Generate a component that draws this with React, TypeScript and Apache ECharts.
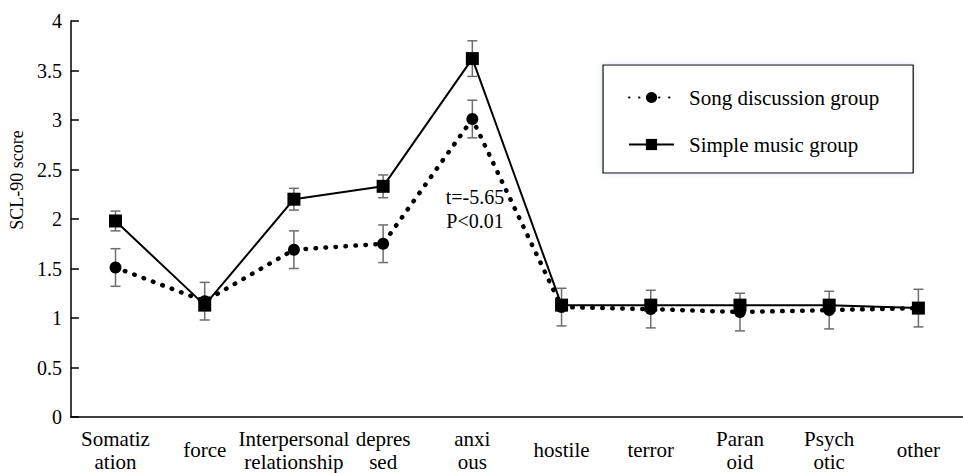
import React, { useEffect, useRef } from "react";
import * as echarts from "echarts";

const categories = [
  "Somatiz\nation",
  "force",
  "Interpersonal\nrelationship",
  "depres\nsed",
  "anxi\nous",
  "hostile",
  "terror",
  "Paran\noid",
  "Psych\notic",
  "other",
];
const songValues = [1.51, 1.17, 1.69, 1.75, 3.01, 1.11, 1.09, 1.06, 1.08, 1.1];
const songErrors = [0.19, 0.19, 0.19, 0.19, 0.19, 0.19, 0.19, 0.19, 0.19, 0.19];
const simpleValues = [1.98, 1.13, 2.2, 2.33, 3.62, 1.13, 1.13, 1.13, 1.13, 1.1];
const simpleErrors = [0.1, 0.05, 0.11, 0.115, 0.18, 0.05, 0.05, 0.05, 0.05, 0.05];
const yTicks = { min: 0, max: 4, interval: 0.5 };
const seriesNames = ["Song discussion group", "Simple music group"];
const annotation = "t=-5.65\nP<0.01";

const FONT = "Liberation Serif";

function errorData(values: number[], errors: number[]) {
  return values.map((v, i) => [i, v - errors[i], v + errors[i]]);
}

function renderError(params: any, api: any) {
  const x = api.value(0);
  const lo = api.coord([x, api.value(1)]);
  const hi = api.coord([x, api.value(2)]);
  const w = 5;
  const style = { stroke: "#6e6e6e", lineWidth: 1.5 };
  return {
    type: "group",
    children: [
      { type: "line", shape: { x1: lo[0], y1: lo[1], x2: hi[0], y2: hi[1] }, style },
      { type: "line", shape: { x1: lo[0] - w, y1: lo[1], x2: lo[0] + w, y2: lo[1] }, style },
      { type: "line", shape: { x1: hi[0] - w, y1: hi[1], x2: hi[0] + w, y2: hi[1] }, style },
    ],
  };
}

export default function App() {
  const ref = useRef<HTMLDivElement>(null);
  useEffect(() => {
    if (!ref.current) return;
    const chart = echarts.init(ref.current, undefined, { renderer: "svg" });
    chart.setOption({
      animation: false,
      backgroundColor: "#ffffff",
      textStyle: { fontFamily: FONT, color: "#000" },
      grid: { left: 70, top: 21, width: 904, height: 396, containLabel: false },
      legend: {
        data: seriesNames,
        orient: "vertical",
        left: 603,
        top: 65,
        itemWidth: 45,
        itemHeight: 14,
        itemGap: 26,
        padding: [22, 34, 18, 25],
        borderColor: "#000",
        borderWidth: 1.2,
        backgroundColor: "#fff",
        shadowColor: "rgba(120,140,170,0.25)",
        shadowBlur: 6,
        textStyle: { fontFamily: FONT, fontSize: 21, color: "#000", padding: [0, 0, 0, 10] },
      },
      xAxis: {
        type: "category",
        data: categories,
        boundaryGap: true,
        axisLine: { lineStyle: { color: "#000", width: 1.5 } },
        axisTick: { inside: true, length: 6, lineStyle: { color: "#000", width: 1.5 } },
        axisLabel: {
          interval: 0,
          fontFamily: FONT,
          fontSize: 21,
          color: "#000",
          lineHeight: 23,
          verticalAlign: "middle",
          margin: 33,
        },
        splitLine: { show: false },
      },
      yAxis: {
        type: "value",
        min: yTicks.min,
        max: yTicks.max,
        interval: yTicks.interval,
        name: "SCL-90 score",
        nameLocation: "middle",
        nameGap: 44,
        nameRotate: 90,
        nameTextStyle: { fontFamily: FONT, fontSize: 18, color: "#000", padding: [0, 0, 0, 78] },
        axisLine: { show: true, lineStyle: { color: "#000", width: 1.5 } },
        axisTick: { show: true, inside: true, length: 8, lineStyle: { color: "#000", width: 1.5 } },
        axisLabel: { fontFamily: FONT, fontSize: 20, color: "#000", margin: 9 },
        splitLine: { show: false },
      },
      graphic: [
        {
          type: "text",
          x: 475,
          y: 209,
          style: {
            text: annotation,
            font: `20px ${FONT}`,
            fill: "#000",
            textAlign: "center",
            textVerticalAlign: "middle",
            lineHeight: 24,
          },
        },
      ],
      series: [
        {
          type: "custom",
          name: "err1",
          z: 1,
          renderItem: renderError,
          encode: { x: 0, y: [1, 2] },
          data: errorData(songValues, songErrors),
          silent: true,
        },
        {
          type: "custom",
          name: "err2",
          z: 1,
          renderItem: renderError,
          encode: { x: 0, y: [1, 2] },
          data: errorData(simpleValues, simpleErrors),
          silent: true,
        },
        {
          type: "line",
          name: seriesNames[0],
          data: songValues,
          z: 3,
          symbol: "circle",
          symbolSize: 12,
          itemStyle: { color: "#000" },
          lineStyle: { color: "#000", width: 4.5, type: [0.5, 9.5], cap: "round" },
        },
        {
          type: "line",
          name: seriesNames[1],
          data: simpleValues,
          z: 4,
          symbol: "rect",
          symbolSize: 13,
          itemStyle: { color: "#000" },
          lineStyle: { color: "#000", width: 2 },
        },
      ],
    });
    return () => chart.dispose();
  }, []);
  return <div ref={ref} style={{ width: 963, height: 473, position: "absolute", left: 0, top: 0 }} />;
}
